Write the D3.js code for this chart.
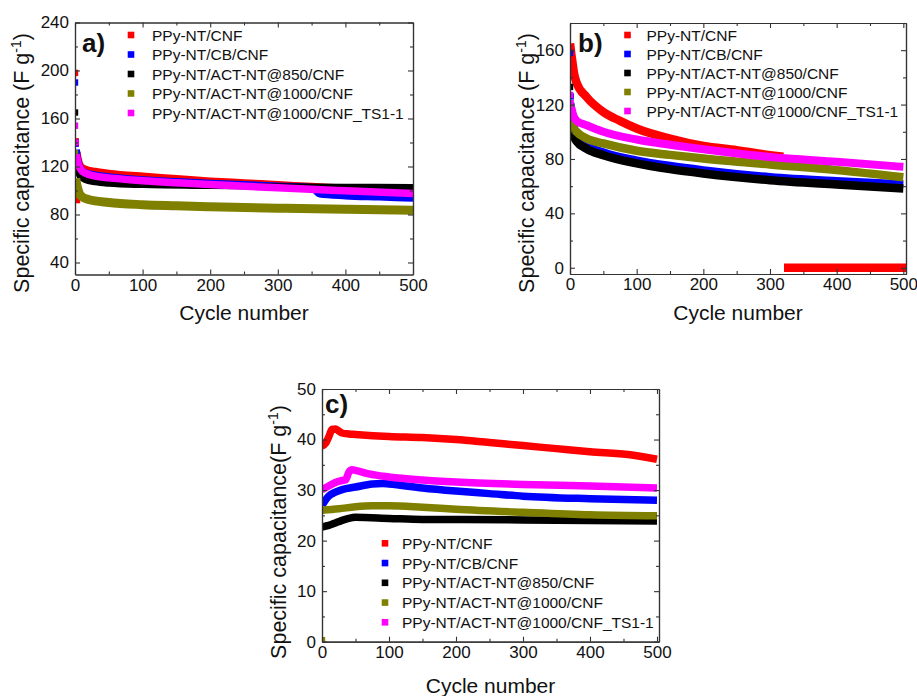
<!DOCTYPE html>
<html>
<head>
<meta charset="utf-8">
<script src="https://cdn.jsdelivr.net/npm/d3@7/dist/d3.min.js"></script>
<style>
  body { margin: 0; background: #fff; }
  text { font-family: "Liberation Sans", Arial, sans-serif; fill: #111; }
</style>
</head>
<body>
<div id="chart"></div>
<script>
// series shared by all three panels
var seriesNames = ["PPy-NT/CNF", "PPy-NT/CB/CNF", "PPy-NT/ACT-NT@850/CNF",
  "PPy-NT/ACT-NT@1000/CNF", "PPy-NT/ACT-NT@1000/CNF_TS1-1"];
var seriesColors = ["#ff0000", "#0000ff", "#000000", "#808000", "#ff00ff"];

// panel a) -- [cycle, F/g]; "start" points are the scattered first cycles
var aStart = [
  [[0, 198], [1, 141], [3, 92]],
  [[0, 190], [1, 139]],
  [[0, 165], [1, 140]],
  [[0, 131]],
  [[0, 154], [1, 140]]
];
var aCurves = [
  [[3, 132], [5, 126], [8, 121], [15, 118], [30, 116], [50, 114.5], [100, 112], [150, 110], [200, 108], [250, 106.5], [300, 105], [350, 103.5], [400, 102], [450, 100.5], [480, 99.5]],
  [[2, 134], [4, 126], [8, 119], [15, 115], [30, 113], [50, 111.5], [100, 109], [150, 107.5], [200, 106], [250, 105], [300, 103.8], [350, 102.5], [362, 97], [400, 95.5], [450, 94.5], [500, 93.5]],
  [[2, 125], [4, 118], [7, 112], [15, 109], [30, 107], [50, 105.8], [100, 104.7], [200, 103.9], [300, 103.4], [400, 103], [500, 102.7]],
  [[1, 110], [3, 104], [6, 98], [10, 95], [20, 92.5], [50, 90], [100, 88.2], [150, 87.3], [200, 86.5], [300, 85.3], [400, 84.3], [500, 83.5]],
  [[2, 130], [4, 124], [8, 118], [15, 114.5], [30, 112], [50, 110.5], [100, 108.2], [150, 106.5], [200, 105], [300, 102.2], [400, 99.8], [500, 97.5]]
];

// panel b)
var bStart = [
  [],
  [[0, 158], [1, 126], [2, 119]],
  [[0, 133], [1, 112]],
  [[0, 118]],
  [[0, 127], [1, 121]]
];
var bCurves = [
  [[0, 165], [2, 157], [4, 150], [6, 143], [10, 136], [25, 125.5], [50, 114.6], [75, 108], [100, 102.4], [150, 95], [200, 89.6], [250, 86.5], [300, 82.8], [320, 81.6], [320.5, null], [321, 0], [504, 0]],
  [[3, 112], [5, 105], [10, 98], [25, 90], [50, 85], [100, 79], [150, 75], [200, 71.8], [300, 66.8], [400, 63.8], [500, 61.5]],
  [[2, 105], [5, 98], [10, 93], [25, 87.5], [50, 82.8], [100, 76.7], [150, 72.5], [200, 69.3], [300, 64.4], [400, 61.2], [500, 58.3]],
  [[2, 108], [5, 103], [10, 100], [25, 95], [50, 91.4], [100, 86], [150, 83], [200, 80.4], [300, 76], [400, 71.8], [500, 66.5]],
  [[2, 118], [5, 112], [10, 108], [25, 104.8], [50, 100], [100, 94.3], [150, 90.5], [200, 87.2], [300, 81.5], [400, 77.9], [500, 74.2]]
];

// panel c)
var cStart = [[], [], [], [[0, 0.3]], []];
var cCurves = [
  [[0, 38.7], [5, 39.2], [10, 40.5], [15, 42], [20, 42.1], [25, 41.7], [30, 41.3], [40, 41.1], [50, 41], [100, 40.6], [150, 40.4], [200, 40], [250, 39.4], [300, 38.8], [350, 38.2], [400, 37.6], [460, 37], [500, 36.1]],
  [[0, 27], [5, 28], [10, 28.8], [20, 29.6], [30, 30.1], [50, 30.6], [75, 31.2], [90, 31.3], [100, 31.2], [150, 30.4], [200, 29.8], [250, 29.3], [300, 28.8], [400, 28.3], [500, 28]],
  [[0, 22.7], [10, 23], [20, 23.5], [30, 24], [40, 24.4], [50, 24.6], [100, 24.4], [150, 24.2], [200, 24.2], [300, 24.1], [400, 24], [500, 23.9]],
  [[0, 26], [25, 26.3], [50, 26.7], [75, 26.9], [100, 26.9], [150, 26.6], [200, 26.2], [300, 25.6], [400, 25.1], [500, 24.9]],
  [[0, 30.1], [10, 30.8], [20, 31.5], [30, 31.9], [35, 32], [40, 33.5], [45, 34], [50, 33.9], [70, 33.2], [100, 32.6], [150, 32], [200, 31.6], [300, 31.1], [400, 30.8], [500, 30.4]]
];

var xTicks = [0, 100, 200, 300, 400, 500];
var xMinor = [50, 150, 250, 350, 450];
var aYTicks = [40, 80, 120, 160, 200, 240];
var aYMinor = [60, 100, 140, 180, 220];
var bYTicks = [0, 40, 80, 120, 160];
var bYMinor = [20, 60, 100, 140, 180];
var cYTicks = [0, 10, 20, 30, 40, 50];
var cYMinor = [5, 15, 25, 35, 45];

var svg = d3.select("#chart").append("svg")
  .attr("width", 917)
  .attr("height", 696);

function drawPanel(p, starts, curves) {
  var x = d3.scaleLinear().domain(p.xDomain).range([p.left, p.right]);
  var y = d3.scaleLinear().domain(p.yDomain).range([p.bottom, p.top]);
  var g = svg.append("g");

  var clipId = "clip-" + p.label.charAt(0);
  svg.append("clipPath").attr("id", clipId)
    .append("rect")
    .attr("x", p.left).attr("y", p.top)
    .attr("width", p.right - p.left).attr("height", p.bottom - p.top);

  var line = d3.line()
    .defined(d => d[1] !== null)
    .x(d => x(d[0]))
    .y(d => y(d[1]))
    .curve(d3.curveMonotoneX);

  var plot = g.append("g").attr("clip-path", "url(#" + clipId + ")");
  curves.forEach(function(c, i) {
    plot.append("path")
      .datum(c)
      .attr("d", line)
      .attr("fill", "none")
      .attr("stroke", seriesColors[i])
      .attr("stroke-width", p.widths[i]);
    plot.selectAll(null)
      .data(starts[i])
      .enter()
      .append("rect")
      .attr("x", d => x(d[0]) - 3.2)
      .attr("y", d => y(d[1]) - 3.2)
      .attr("width", 6.4)
      .attr("height", 6.4)
      .attr("fill", seriesColors[i]);
  });

  // axes, ticks inward on all four sides
  function styleAxis(sel) {
    sel.selectAll("path").attr("stroke", "#333").attr("stroke-width", 1.2);
    sel.selectAll("line").attr("stroke", "#333").attr("stroke-width", 1.1);
    sel.selectAll("text").attr("font-family", "Liberation Sans, Arial, sans-serif")
      .attr("font-size", 17).attr("fill", "#1a1a1a");
  }

  g.append("g").attr("transform", `translate(0,${p.bottom})`)
    .call(d3.axisBottom(x).tickValues(xTicks).tickSizeInner(-5).tickSizeOuter(0).tickPadding(4))
    .call(styleAxis);
  g.append("g").attr("transform", `translate(0,${p.bottom})`)
    .call(d3.axisBottom(x).tickValues(xMinor).tickSizeInner(-3).tickSizeOuter(0).tickFormat(""))
    .call(styleAxis);
  g.append("g").attr("transform", `translate(0,${p.top})`)
    .call(d3.axisTop(x).tickValues(xTicks).tickSizeInner(-5).tickSizeOuter(0).tickFormat(""))
    .call(styleAxis);
  g.append("g").attr("transform", `translate(0,${p.top})`)
    .call(d3.axisTop(x).tickValues(xMinor).tickSizeInner(-3).tickSizeOuter(0).tickFormat(""))
    .call(styleAxis);

  g.append("g").attr("transform", `translate(${p.left},0)`)
    .call(d3.axisLeft(y).tickValues(p.yTicks).tickSizeInner(-5).tickSizeOuter(0).tickPadding(6))
    .call(styleAxis);
  g.append("g").attr("transform", `translate(${p.left},0)`)
    .call(d3.axisLeft(y).tickValues(p.yMinor).tickSizeInner(-3).tickSizeOuter(0).tickFormat(""))
    .call(styleAxis);
  g.append("g").attr("transform", `translate(${p.right},0)`)
    .call(d3.axisRight(y).tickValues(p.yTicks).tickSizeInner(-5).tickSizeOuter(0).tickFormat(""))
    .call(styleAxis);
  g.append("g").attr("transform", `translate(${p.right},0)`)
    .call(d3.axisRight(y).tickValues(p.yMinor).tickSizeInner(-3).tickSizeOuter(0).tickFormat(""))
    .call(styleAxis);

  // axis titles
  g.append("text")
    .attr("x", (p.left + p.right) / 2)
    .attr("y", p.xTitleY)
    .attr("text-anchor", "middle")
    .attr("font-size", 21)
    .text("Cycle number");

  var yt = g.append("text")
    .attr("transform", `translate(${p.yTitleX},${p.yTitleY}) rotate(-90)`)
    .attr("text-anchor", "middle")
    .attr("font-size", 21.5);
  yt.append("tspan").text(p.yTitle);
  yt.append("tspan").attr("font-size", 14).attr("dy", -8).text("-1");
  yt.append("tspan").attr("dy", 8).text(")");

  // panel letter
  g.append("text")
    .attr("x", p.labelX)
    .attr("y", p.labelY)
    .attr("font-size", 26)
    .attr("font-weight", "bold")
    .text(p.label);

  // legend
  var leg = g.selectAll(".leg")
    .data(seriesNames)
    .enter()
    .append("g")
    .attr("transform", (d, i) => `translate(${p.legX},${p.legY + i * p.legStep})`);
  leg.append("rect")
    .attr("x", -3.3).attr("y", -3.3)
    .attr("width", 6.6).attr("height", 6.6)
    .attr("fill", (d, i) => seriesColors[i]);
  leg.append("text")
    .attr("x", p.legTextDx)
    .attr("y", 5.5)
    .attr("font-size", 15.5)
    .text(d => d);
}

drawPanel({
  label: "a)", labelX: 82, labelY: 52,
  left: 75, right: 413, top: 22.5, bottom: 274.5,
  xDomain: [0, 500], yDomain: [30, 240],
  yTicks: aYTicks, yMinor: aYMinor,
  widths: [7, 7, 6.5, 9, 7.5],
  xTitleY: 320, yTitleX: 29, yTitleY: 163,
  yTitle: "Specific capacitance (F g",
  legX: 131, legY: 35, legStep: 19.5, legTextDx: 21
}, aStart, aCurves);

drawPanel({
  label: "b)", labelX: 578, labelY: 52,
  left: 570, right: 906, top: 23, bottom: 274,
  xDomain: [0, 504], yDomain: [-4.6, 180],
  yTicks: bYTicks, yMinor: bYMinor,
  widths: [8.5, 8, 8.5, 8.5, 8],
  xTitleY: 320, yTitleX: 534, yTitleY: 163,
  yTitle: "Specific capacitance (F g",
  legX: 627.5, legY: 35, legStep: 19, legTextDx: 19
}, bStart, bCurves);

drawPanel({
  label: "c)", labelX: 325, labelY: 413,
  left: 322, right: 659, top: 389, bottom: 641.7,
  xDomain: [0, 503], yDomain: [0, 50],
  yTicks: cYTicks, yMinor: cYMinor,
  widths: [7.5, 7.5, 7.5, 7.5, 7.5],
  xTitleY: 693, yTitleX: 286, yTitleY: 532,
  yTitle: "Specific capacitance(F g",
  legX: 385, legY: 543.3, legStep: 19.75, legTextDx: 17
}, cStart, cCurves);
</script>
</body>
</html>
